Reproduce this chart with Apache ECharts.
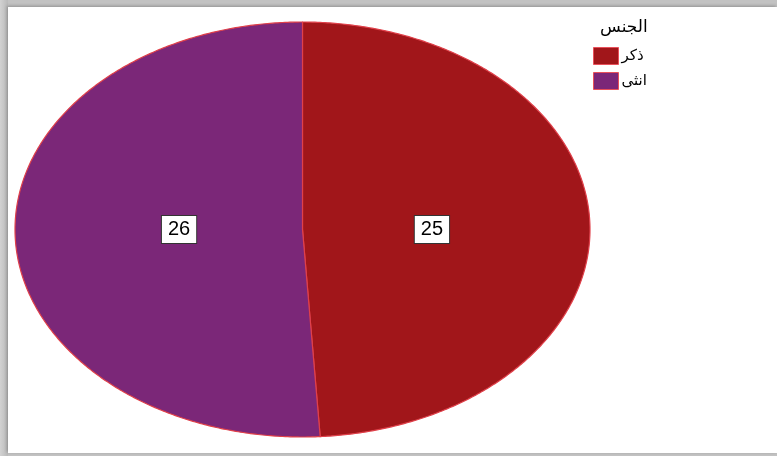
<!DOCTYPE html>
<html>
<head>
<meta charset="utf-8">
<script src="https://cdn.jsdelivr.net/npm/echarts@6/dist/echarts.min.js"></script>
<style>
  html, body { margin: 0; padding: 0; }
  body { width: 777px; height: 456px; position: relative; overflow: hidden;
         background: linear-gradient(90deg, #d2d2d2 0px, #b9b9b9 8px, #c2c2c2 8px); }
  #panel { position: absolute; left: 8px; top: 7px; width: 769px; height: 446px; background: #fff;
           box-shadow: -1px -1px 3px rgba(0,0,0,0.25); }
  #chart { position: absolute; left: 0; top: 0; width: 777px; height: 456px; }
</style>
</head>
<body>
<div id="panel"></div>
<div id="chart"></div>
<script>
// Gender breakdown (counts)
const legendTitle = 'الجنس';
const categories = ['ذكر', 'انثى'];
const counts = [25, 26];
const colors = ['#a1161a', '#7b2778'];

// Ellipse geometry of the pie
const CX = 302.5, CY = 229.5, RX = 287.5, RY = 207.5;
const LABEL_K = 0.44;
const total = counts.reduce((a, b) => a + b, 0);

function sectorItem(params, api) {
  const idx = params.seriesIndex;
  let before = 0;
  for (let j = 0; j < idx; j++) before += counts[j];
  const val = api.value(0);
  const a0 = before / total * Math.PI * 2;
  const a1 = (before + val) / total * Math.PI * 2;
  const pts = [[CX, CY]];
  const steps = Math.max(8, Math.ceil((a1 - a0) / (Math.PI / 360)));
  for (let s = 0; s <= steps; s++) {
    const t = a0 + (a1 - a0) * s / steps;
    pts.push([CX + RX * Math.sin(t), CY - RY * Math.cos(t)]);
  }
  const mid = (a0 + a1) / 2;
  return {
    type: 'group',
    children: [
      {
        type: 'polygon',
        shape: { points: pts },
        style: { fill: api.visual('color'), stroke: '#e0404a', lineWidth: 1.2, lineJoin: 'round' }
      },
      {
        // value label: sits level with the centre, pushed out along the slice's middle direction
        type: 'text',
        z2: 10,
        x: CX + 3 + RX * LABEL_K * Math.sin(mid),
        y: CY,
        style: {
          text: String(val),
          fill: '#000',
          font: '20px "Liberation Sans", Arial, sans-serif',
          align: 'center',
          verticalAlign: 'middle',
          backgroundColor: '#fff',
          borderColor: '#333',
          borderWidth: 1,
          padding: [4, 6, 3, 6]
        }
      }
    ]
  };
}

const chart = echarts.init(document.getElementById('chart'), null, { renderer: 'canvas' });
chart.setOption({
  animation: false,
  title: {
    text: legendTitle,
    left: 600,
    top: 19,
    padding: 0,
    textStyle: { fontFamily: '"DejaVu Sans", sans-serif', fontSize: 17, fontWeight: 'normal', color: '#000' }
  },
  legend: {
    orient: 'vertical',
    left: 593,
    top: 47,
    padding: 0,
    itemWidth: 25,
    itemHeight: 17,
    itemGap: 7,
    icon: 'rect',
    data: categories,
    itemStyle: { borderColor: '#e8505a', borderWidth: 1 },
    textStyle: { fontFamily: '"DejaVu Sans", sans-serif', fontSize: 15, color: '#000', padding: [0, 0, 0, -2] }
  },
  series: categories.map((name, i) => ({
    type: 'custom',
    name: name,
    coordinateSystem: 'none',
    itemStyle: { color: colors[i] },
    data: [[counts[i]]],
    renderItem: sectorItem
  }))
});
</script>
</body>
</html>
